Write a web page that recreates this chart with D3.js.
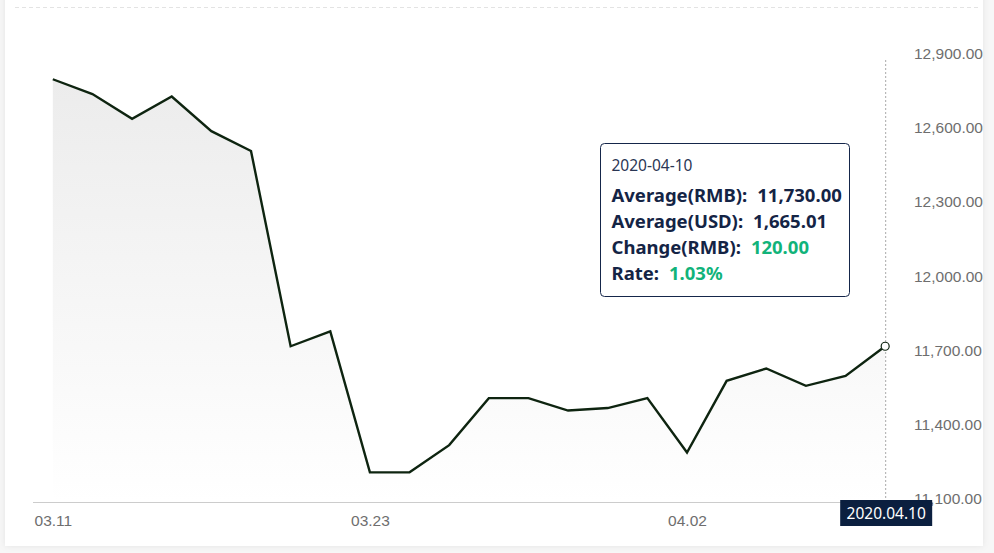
<!DOCTYPE html>
<html>
<head>
<meta charset="utf-8">
<script src="https://cdn.jsdelivr.net/npm/d3@7"></script>
<style>
  body { margin: 0; background: #f7f7f7; }
  svg { display: block; font-family: "Noto Sans", "Open Sans", sans-serif; }
</style>
</head>
<body>
<div id="chart"></div>
<script>
// trading days shown on the x axis
var dates = ["03.11","03.12","03.13","03.16","03.17","03.18","03.19","03.20","03.23","03.24","03.25",
             "03.26","03.27","03.30","03.31","04.01","04.02","04.03","04.07","04.08","04.09","04.10"];
// average price, RMB
var values = [12810,12750,12650,12740,12600,12520,11730,11790,11220,11220,11330,
              11520,11520,11470,11480,11520,11300,11590,11640,11570,11610,11730];
var yTicks = [11100,11400,11700,12000,12300,12600,12900];
var xTickLabels = ["03.11","03.23","04.02"];

// tooltip content for the hovered (last) day
var tipTitle = "2020-04-10";
var tipRows = [
    {label: "Average(RMB):", value: "11,730.00", color: "#142445"},
    {label: "Average(USD):", value: "1,665.01", color: "#142445"},
    {label: "Change(RMB):", value: "120.00", color: "#11b37a"},
    {label: "Rate:", value: "1.03%", color: "#11b37a"}
];
var badgeText = "2020.04.10";

var width = 994, height = 553;
var grid = {left: 33, right: 905, top: 57, bottom: 502};

var svg = d3.select("#chart").append("svg")
    .attr("width", width)
    .attr("height", height);

var defs = svg.append("defs");
var shadow = defs.append("filter").attr("id", "shadow")
    .attr("x", "-5%").attr("y", "-5%").attr("width", "110%").attr("height", "110%");
shadow.append("feDropShadow").attr("dx", 0).attr("dy", 0).attr("stdDeviation", 3)
    .attr("flood-color", "#000").attr("flood-opacity", 0.08);

var grad = defs.append("linearGradient").attr("id", "areaGrad")
    .attr("x1", 0).attr("y1", 0).attr("x2", 0).attr("y2", 1);
grad.append("stop").attr("offset", "0%").attr("stop-color", "#ececec");
grad.append("stop").attr("offset", "100%").attr("stop-color", "#ffffff");

// card
svg.append("rect")
    .attr("x", 5).attr("y", -10)
    .attr("width", 978).attr("height", 556)
    .attr("fill", "#fff")
    .attr("filter", "url(#shadow)");

svg.append("line")
    .attr("x1", 15).attr("x2", 980)
    .attr("y1", 7.5).attr("y2", 7.5)
    .attr("stroke", "#e3e3e3")
    .attr("stroke-dasharray", "4,3");

var x = d3.scalePoint().domain(dates).range([grid.left, grid.right]).padding(0.5);
var y = d3.scaleLinear().domain([11100, 12900]).range([grid.bottom, grid.top]);

var area = d3.area()
    .x(function(d, i) { return x(dates[i]); })
    .y0(grid.bottom)
    .y1(function(d) { return y(d); });

var line = d3.line()
    .x(function(d, i) { return x(dates[i]); })
    .y(function(d) { return y(d); });

svg.append("path")
    .datum(values)
    .attr("d", area)
    .attr("fill", "url(#areaGrad)");

// x axis
var xaxis = svg.append("g")
    .attr("transform", "translate(0," + grid.bottom + ")")
    .call(d3.axisBottom(x).tickValues(xTickLabels).tickSize(0).tickPadding(13));
xaxis.select(".domain").attr("stroke", "#cccccc").attr("d", "M" + grid.left + ",0.5H" + grid.right);
xaxis.selectAll("text").attr("fill", "#6e6e6e").style("font-size", "15.5px");

// y axis, labels on the right
var yaxis = svg.append("g")
    .attr("transform", "translate(" + 914 + ",0)")
    .call(d3.axisRight(y).tickValues(yTicks).tickSize(0).tickPadding(0)
        .tickFormat(d3.format(",.2f")));
yaxis.select(".domain").remove();
yaxis.selectAll("text").attr("fill", "#6e6e6e").attr("dy", "0.1em").style("font-size", "15.5px");

// cursor
var last = dates.length - 1;
svg.append("line")
    .attr("x1", x(dates[last]) + 0.5).attr("x2", x(dates[last]) + 0.5)
    .attr("y1", y(12900) + 3).attr("y2", grid.bottom)
    .attr("stroke", "#aaaaaa")
    .attr("stroke-dasharray", "2,2");

svg.append("path")
    .datum(values)
    .attr("d", line)
    .attr("fill", "none")
    .attr("stroke", "#0e2410")
    .attr("stroke-width", 2.4)
    .attr("stroke-linejoin", "miter");

svg.append("circle")
    .attr("cx", x(dates[last])).attr("cy", y(values[last]))
    .attr("r", 4)
    .attr("fill", "#fff")
    .attr("stroke", "#0e2410")
    .attr("stroke-width", 1.2);

// axis pointer badge
var badge = svg.append("g").attr("transform", "translate(" + x(dates[last]) + "," + 500 + ")");
badge.append("rect")
    .attr("x", -45).attr("y", 0)
    .attr("width", 92).attr("height", 26)
    .attr("fill", "#0b1f3f");
badge.append("text")
    .attr("x", 1).attr("y", 18.5)
    .attr("text-anchor", "middle")
    .attr("fill", "#fff")
    .style("font-size", "15.5px")
    .text(badgeText);

// tooltip
var tip = svg.append("g").attr("transform", "translate(600.5,143.5)");
tip.append("rect")
    .attr("width", 249).attr("height", 153)
    .attr("rx", 4)
    .attr("fill", "#fff")
    .attr("stroke", "#15264a")
    .attr("stroke-width", 1);
tip.append("text")
    .attr("x", 11).attr("y", 27)
    .attr("fill", "#2a3654")
    .style("font-size", "15.5px")
    .text(tipTitle);

tipRows.forEach(function(r, i) {
    var t = tip.append("text")
        .attr("x", 11).attr("y", 58 + i * 26)
        .style("font-size", "18.5px")
        .style("font-weight", "bold");
    t.append("tspan").attr("fill", "#142445").text(r.label);
    t.append("tspan").attr("dx", 10).attr("fill", r.color).text(r.value);
});
</script>
</body>
</html>
